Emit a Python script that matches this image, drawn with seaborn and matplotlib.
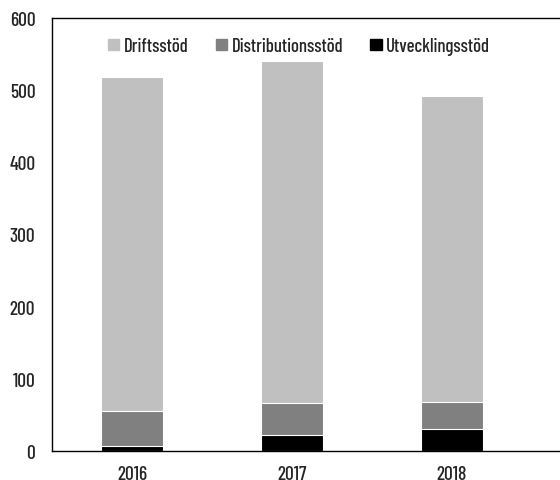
import matplotlib
matplotlib.use("Agg")
import matplotlib.pyplot as plt
import seaborn as sns
import pandas as pd
from matplotlib.patches import Patch

years = ["2016", "2017", "2018"]
utveckling = [7, 22, 30]
distribution = [48, 44, 38]
drift = [463, 475, 424]

sns.set_style("white")
plt.rcParams["font.family"] = ["Barlow Condensed", "Roboto Condensed", "DejaVu Sans"]
plt.rcParams["font.weight"] = "medium"

df = pd.DataFrame({"year": years, "utv": utveckling, "dist": distribution, "drift": drift})
df["dist_cum"] = df["utv"] + df["dist"]
df["drift_cum"] = df["dist_cum"] + df["drift"]

fig = plt.figure(figsize=(5.6, 4.81), dpi=100)
ax = fig.add_axes([52 / 560, 29 / 481, 1.0, 433 / 481])

# stacked bars drawn as cumulative totals, back to front
for col, color in [("drift_cum", "#c0c0c0"), ("dist_cum", "#808080"), ("utv", "#000000")]:
    sns.barplot(data=df, x="year", y=col, color=color, width=0.39,
                edgecolor="white", linewidth=0.8, saturation=1, ax=ax)

ax.set_ylim(0, 600)
ax.set_xlim(-0.5, 3.0)
ax.set_yticks(range(0, 601, 100))
ax.set_xlabel("")
ax.set_ylabel("")

for side in ["left", "top", "bottom", "right"]:
    ax.spines[side].set_visible(True)
    ax.spines[side].set_color("black")
    ax.spines[side].set_linewidth(1.0)

ax.tick_params(axis="y", direction="in", length=6, width=0.8, labelsize=14, pad=12)
ax.tick_params(axis="x", which="major", length=0, labelsize=14, pad=10)
ax.set_xticks([-0.5, 0.5, 1.5, 2.5], minor=True)
ax.tick_params(axis="x", which="minor", direction="inout", length=10, width=0.8)

handles = [Patch(color="#c0c0c0", label="Driftsstöd"),
           Patch(color="#808080", label="Distributionsstöd"),
           Patch(color="#000000", label="Utvecklingsstöd")]
fig.legend(handles=handles, loc="center", bbox_to_anchor=(0.534, 0.902), ncol=3,
           frameon=False, fontsize=13.5, handlelength=0.6, handleheight=0.6,
           handletextpad=0.25, columnspacing=1.45)

fig.savefig("out.png", dpi=100)
